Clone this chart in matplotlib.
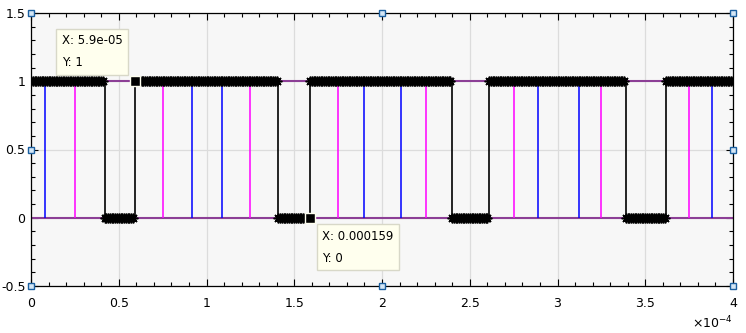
import numpy as np
import matplotlib.pyplot as plt

# square wave: transition times (units of 1e-4 s) and the level after each one
edges = [0.0, 0.42, 0.59, 1.41, 1.59, 2.40, 2.61, 3.39, 3.62]
levels = [1, 0, 1, 0, 1, 0, 1, 0, 1]
t_end = 4.0
dt = 0.01  # sample step of the plotted signal

# stem positions (units of 1e-4 s)
blue_x = [0.08, 0.92, 1.09, 1.90, 2.11, 2.89, 3.12, 3.88]
magenta_x = [0.25, 0.75, 1.25, 1.75, 2.25, 2.75, 3.25, 3.75]

# data tips
tips = [(0.59, 1, 'X: 5.9e-05\nY: 1'), (1.59, 0, 'X: 0.000159\nY: 0')]

t = np.arange(0, t_end + dt / 2, dt)
idx = np.searchsorted(edges, t + 1e-9, side='right') - 1
sig = np.array(levels)[idx]

fig = plt.figure(figsize=(7.46, 3.33), dpi=100)
ax = fig.add_axes([31 / 746, 1 - 286 / 333, 702 / 746, 273 / 333])
ax.set_facecolor('#f7f7f7')

purple = '#8c3f96'
ax.plot([0, t_end], [0, 0], color=purple, lw=1.5, zorder=2)
ax.plot([0, t_end], [1, 1], color=purple, lw=1.5, zorder=2)

ax.vlines(blue_x, 0, 1, color='#0000ff', lw=1.1, zorder=3)
ax.vlines(magenta_x, 0, 1, color='#ff00ff', lw=1.1, zorder=3)

ax.plot(t, sig, color='black', lw=1.2, drawstyle='steps-post', zorder=4)
ax.plot(t, sig, ls='none', color='black', marker=(8, 2, 0), ms=7, mew=1.1, zorder=4)

for x, y, label in tips:
    ax.plot(x, y, 's', color='black', ms=7, mec='#fffff0', mew=1, zorder=6)
    if y == 1:
        off, ha, va = (-12, 12), 'right', 'bottom'
    else:
        off, ha, va = (12, -12), 'left', 'top'
    ax.annotate(label, (x, y), xytext=off, textcoords='offset pixels',
                ha=ha, va=va, multialignment='left', fontsize=8.5, linespacing=1.9,
                zorder=7,
                bbox=dict(boxstyle='square,pad=0.45', fc='#ffffee', ec='#d8d8c8', lw=1))

ax.set_xlim(0, t_end)
ax.set_ylim(-0.5, 1.5)
ax.set_xticks(np.arange(0, 4.01, 0.5))
ax.set_xticklabels(['0', '0.5', '1', '1.5', '2', '2.5', '3', '3.5', '4'])
ax.set_yticks(np.arange(-0.5, 1.51, 0.5))
ax.set_yticklabels(['-0.5', '0', '0.5', '1', '1.5'])
ax.set_xticks(np.arange(0, 4.01, 0.1), minor=True)
ax.set_yticks(np.arange(-0.5, 1.51, 0.1), minor=True)
ax.grid(True, which='major', color='#dcdcdc', lw=0.9, zorder=1)
ax.set_axisbelow(True)
ax.tick_params(which='both', direction='in', top=True, right=True, labelsize=9)
ax.tick_params(which='major', length=5, width=0.8)
ax.tick_params(axis='x', which='major', pad=8)
ax.tick_params(axis='y', which='major', pad=4)
ax.tick_params(which='minor', length=3, width=0.8)
for s in ax.spines.values():
    s.set_linewidth(0.9)

fig.text(733 / 746, 1 - 323 / 333, r'$\times10^{-4}$', ha='right', va='center', fontsize=9)

# selection handles
hx = [0, 2, 4, 0, 4, 0, 2, 4]
hy = [1.5, 1.5, 1.5, 0.5, 0.5, -0.5, -0.5, -0.5]
ax.plot(hx, hy, 's', ms=5, mfc='#d4e6f5', mec='#1a5fa0', mew=1, ls='none',
        clip_on=False, zorder=10)

fig.savefig('out.png', dpi=100)
